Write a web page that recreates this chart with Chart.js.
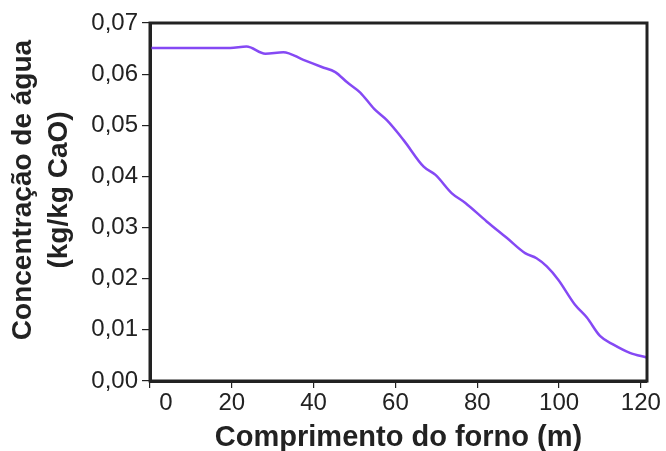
<!DOCTYPE html>
<html>
<head>
<meta charset="utf-8">
<script src="https://cdn.jsdelivr.net/npm/chart.js@4.4.1/dist/chart.umd.min.js"></script>
<style>
  html, body { margin: 0; padding: 0; background: #fff; }
  #wrap { width: 666px; height: 451px; }
</style>
</head>
<body>
<div id="wrap"><canvas id="c" width="666" height="451"></canvas></div>
<script>
// Water content along the kiln length
const positions = [0, 5, 10, 15, 19.6, 23.6, 28.2, 32.6, 37.5, 42, 45.3, 48.2, 51.4, 54.8, 57.9, 62, 66.9, 69.8, 73.8, 77.1, 82.3, 87.2, 91.7, 94.5, 97, 99.8, 103.9, 106.8, 110, 113.3, 117.3, 121.4];
const waterContent = [0.0651, 0.0651, 0.0651, 0.0651, 0.0651, 0.0654, 0.0640, 0.0643, 0.0628, 0.0614, 0.0604, 0.0584, 0.0564, 0.0532, 0.0510, 0.0471, 0.0419, 0.0403, 0.0367, 0.0348, 0.0312, 0.0280, 0.0250, 0.0240, 0.0224, 0.0198, 0.0149, 0.0124, 0.0088, 0.0071, 0.0055, 0.0046];
const xTicks = [0, 20, 40, 60, 80, 100, 120];
const yTicks = [0, 0.01, 0.02, 0.03, 0.04, 0.05, 0.06, 0.07];
const xTitle = 'Comprimento do forno (m)';
const yTitle = ['Concentração de água', '(kg/kg CaO)'];

const ink = '#222222';
const font = 'Liberation Sans, Arial, sans-serif';

// Closed frame around the plot area
const frame = {
  id: 'frame',
  afterDraw(chart) {
    const a = chart.chartArea, ctx = chart.ctx;
    ctx.save();
    ctx.strokeStyle = ink;
    ctx.lineWidth = 3;
    ctx.strokeRect(a.left, a.top, a.right - a.left, a.bottom - a.top);
    ctx.restore();
  }
};

// Nudge the "0" label on the x axis so it clears the "0,00" label
const nudgeFirstXLabel = {
  id: 'nudgeFirstXLabel',
  beforeDraw(chart) {
    const items = chart.scales.x.getLabelItems(chart.chartArea);
    if (items.length) items[0].options.translation[0] += 16;
  }
};

// Two-line rotated title for the y axis
const yAxisTitle = {
  id: 'yAxisTitle',
  afterDraw(chart) {
    const a = chart.chartArea, ctx = chart.ctx;
    ctx.save();
    ctx.fillStyle = ink;
    ctx.font = 'bold 28px ' + font;
    ctx.textAlign = 'center';
    ctx.textBaseline = 'middle';
    const cy = (a.top + a.bottom) / 2 - 12;
    const xs = [23, 59];
    yTitle.forEach((line, i) => {
      ctx.save();
      ctx.translate(xs[i], cy);
      ctx.rotate(-Math.PI / 2);
      ctx.fillText(line, 0, 0);
      ctx.restore();
    });
    ctx.restore();
  }
};

new Chart(document.getElementById('c'), {
  type: 'line',
  data: {
    datasets: [{
      data: positions.map((x, i) => ({ x, y: waterContent[i] })),
      borderColor: '#8549f4',
      borderWidth: 2.5,
      pointRadius: 0,
      cubicInterpolationMode: 'monotone',
      fill: false
    }]
  },
  options: {
    responsive: false,
    animation: false,
    layout: { padding: { top: 23, right: 19, left: 0, bottom: 0 } },
    plugins: { legend: { display: false }, tooltip: { enabled: false } },
    scales: {
      x: {
        type: 'linear',
        min: 0,
        max: 121.5,
        afterBuildTicks(scale) { scale.ticks = xTicks.map(v => ({ value: v })); },
        afterFit(scale) { scale.height = 70; },
        border: { display: true, color: ink, width: 3 },
        grid: { drawOnChartArea: false, color: ink, tickLength: 7, lineWidth: 1.2 },
        ticks: {
          color: ink,
          padding: 1,
          font: { family: font, size: 24 },
          maxRotation: 0,
          autoSkip: false,
          callback: v => String(v)
        },
        title: {
          display: true,
          text: xTitle,
          color: ink,
          padding: { top: 0, bottom: 0 },
          font: { family: font, size: 29, weight: 'bold', lineHeight: 0.9 }
        }
      },
      y: {
        min: 0,
        max: 0.07,
        afterBuildTicks(scale) { scale.ticks = yTicks.map(v => ({ value: v })); },
        afterFit(scale) { scale.width = 150; },
        border: { display: true, color: ink, width: 3 },
        grid: { drawOnChartArea: false, color: ink, tickLength: 8, lineWidth: 1.2 },
        ticks: {
          color: ink,
          padding: 4,
          font: { family: font, size: 24 },
          autoSkip: false,
          callback: v => v.toFixed(2).replace('.', ',')
        }
      }
    }
  },
  plugins: [frame, nudgeFirstXLabel, yAxisTitle]
});
</script>
</body>
</html>
